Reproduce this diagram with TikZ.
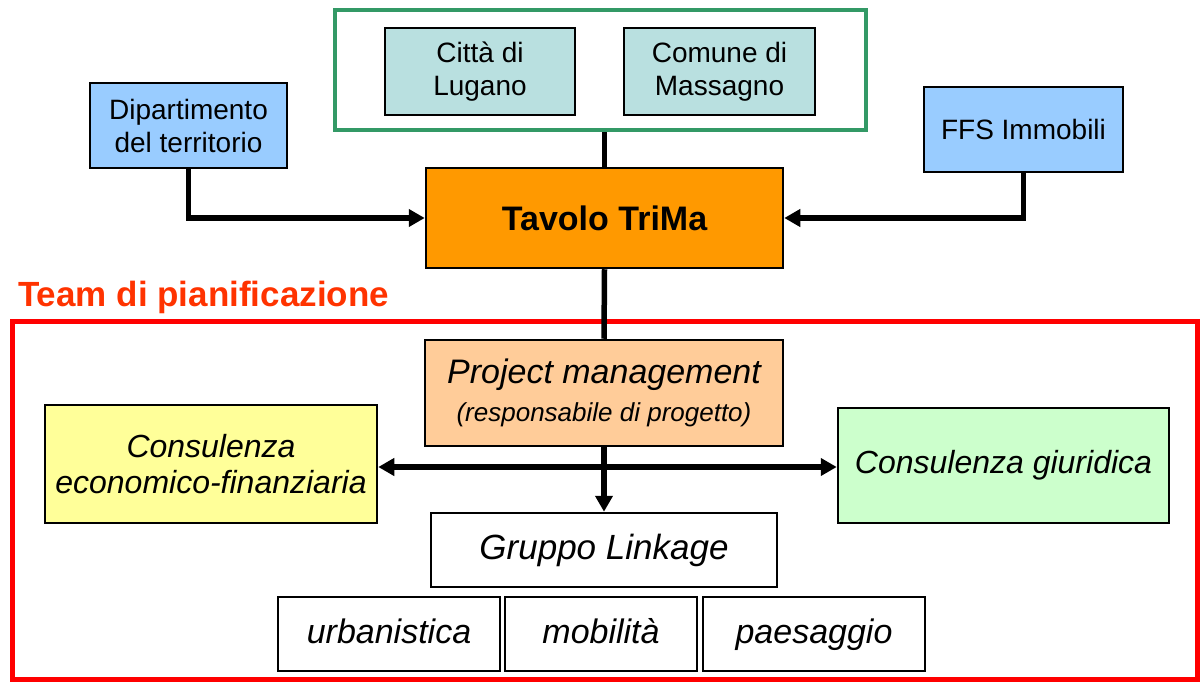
\documentclass[tikz,border=0pt]{standalone}
\usepackage{fontspec}
\setmainfont{Liberation Sans}
\usetikzlibrary{arrows.meta}

\definecolor{cityblue}{RGB}{185,224,224}
\definecolor{skyblue}{RGB}{153,204,255}
\definecolor{trimaorange}{RGB}{255,153,0}
\definecolor{peach}{RGB}{255,204,153}
\definecolor{paleyellow}{RGB}{255,255,153}
\definecolor{palegreen}{RGB}{204,255,204}
\definecolor{framegreen}{RGB}{51,153,102}
\definecolor{teamred}{RGB}{255,51,0}

\begin{document}
\begin{tikzpicture}[x = 1pt, y = -1pt,
	box/.style = {draw = black, line width = 2.5pt, inner sep = 0pt, align = center},
	txt/.style = {font = \fontsize{28}{33}\selectfont},
	itxt/.style = {font = \fontsize{32}{36}\selectfont\itshape},
	subbox/.style = {box,
					 font = \fontsize{34}{34}\selectfont\itshape,
					 text height = 25pt,
					 text depth = 7pt,
					 minimum height = 74pt},
	conn/.style = {line width = 5.5pt},
	>={Triangle[length = 16pt, width = 17pt]}]

	\useasboundingbox (0,0) rectangle (1202,682);

	% frames
	\draw (605,500.5) node[draw = red,
					 line width = 5pt,
					 minimum width = 1185pt,
					 minimum height = 358pt] (team) {};

	\draw (18,297) node[anchor = west,
					 inner sep = 0pt,
					 text = teamred,
					 font = \fontsize{35}{35}\selectfont\bfseries] (teamlabel) {Team di pianificazione};

	\draw (600.5,70) node[draw = framegreen,
					 line width = 4.5pt,
					 minimum width = 531pt,
					 minimum height = 120pt] (gov) {};

	% top level
	\draw (480,71.5) node[box, txt,
					 fill = cityblue,
					 minimum width = 190pt,
					 minimum height = 87pt] (lugano) {Città di\\Lugano};

	\draw (719.5,71.5) node[box, txt,
					 fill = cityblue,
					 minimum width = 191pt,
					 minimum height = 87pt] (massagno) {Comune di\\Massagno};

	\draw (188.5,125.5) node[box, txt,
					 fill = skyblue,
					 minimum width = 197pt,
					 minimum height = 85pt] (dip) {Dipartimento\\del territorio};

	\draw (1023.5,129.5) node[box, txt,
					 fill = skyblue,
					 minimum width = 199pt,
					 minimum height = 85pt] (ffs) {FFS Immobili};

	\draw (604.5,218) node[box,
					 fill = trimaorange,
					 font = \fontsize{34}{34}\selectfont\bfseries,
					 minimum width = 357pt,
					 minimum height = 100pt] (tavolo) {Tavolo TriMa};

	% planning team
	\draw (604,393) node[box,
					 fill = peach,
					 minimum width = 358pt,
					 minimum height = 106pt] (pm) {{\fontsize{34}{40}\selectfont\itshape Project management}\\[11pt]
					 {\fontsize{26}{30}\selectfont\itshape (responsabile di progetto)}};

	\draw (211,464) node[box, itxt,
					 fill = paleyellow,
					 minimum width = 332pt,
					 minimum height = 118pt] (eco) {Consulenza\\economico-finanziaria};

	\draw (1003.5,465.5) node[box, itxt,
					 fill = palegreen,
					 minimum width = 331pt,
					 minimum height = 115pt] (giur) {Consulenza giuridica};

	\draw (604,550) node[box,
					 font = \fontsize{35}{35}\selectfont\itshape,
					 minimum width = 346pt,
					 minimum height = 74pt] (linkage) {Gruppo Linkage};

	\draw (389,634) node[subbox,
					 minimum width = 222pt] (urb) {urbanistica};

	\draw (601,634) node[subbox,
					 minimum width = 192pt] (mob) {mobilità};

	\draw (814,634) node[subbox,
					 minimum width = 222pt] (pae) {paesaggio};

	\coordinate (hub) at (604,467);

	% connectors
	\draw[conn] (tavolo.north) -- (tavolo.north |- gov.south);
	\draw[conn, ->] (dip.south) |- (tavolo.west);
	\draw[conn, ->] (ffs.south) |- (tavolo.east);
	\draw[conn] (tavolo.south) -- (pm.north);
	\draw[conn, ->] (pm.south) -- (linkage.north);
	\draw[conn, <->] (hub -| eco.east) -- (hub -| giur.west);
\end{tikzpicture}
\end{document}
